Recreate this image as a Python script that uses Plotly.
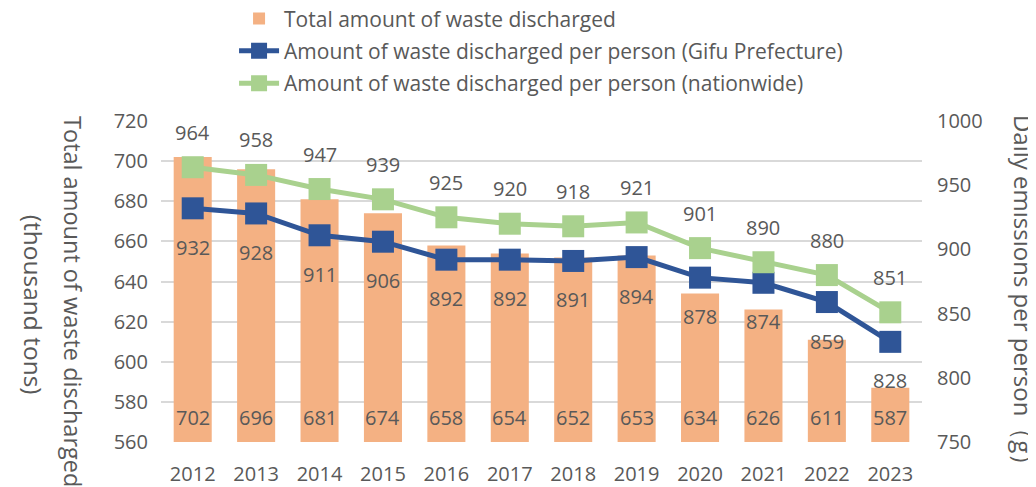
import plotly.graph_objects as go

years = ["2012", "2013", "2014", "2015", "2016", "2017", "2018", "2019", "2020", "2021", "2022", "2023"]
total = [702, 696, 681, 674, 658, 654, 652, 653, 634, 626, 611, 587]
gifu = [932, 928, 911, 906, 892, 892, 891, 894, 878, 874, 859, 828]
nation = [964, 958, 947, 939, 925, 920, 918, 921, 901, 890, 880, 851]

FONT = "Open Sans"
TXT = "#595959"
FS = 20

fig = go.Figure()
fig.add_trace(go.Bar(x=years, y=total, name="Total amount of waste discharged",
                     legendgroup="a",
                     marker=dict(color="#F4B183", line=dict(width=0)), yaxis="y"))
fig.add_trace(go.Scatter(x=years, y=gifu, name="Amount of waste discharged per person (Gifu Prefecture)",
                         legendgroup="b",
                         mode="lines+markers", yaxis="y2",
                         line=dict(color="#2F5597", width=5),
                         marker=dict(symbol="square", size=22, color="#2F5597")))
fig.add_trace(go.Scatter(x=years, y=nation, name="Amount of waste discharged per person (nationwide)",
                         legendgroup="c",
                         mode="lines+markers", yaxis="y2",
                         line=dict(color="#A9D18E", width=5),
                         marker=dict(symbol="square", size=22, color="#A9D18E")))

ann = []
for i, v in enumerate(total):
    ann.append(dict(x=i, y=560, xref="x", yref="y", text=str(v), showarrow=False,
                    yanchor="middle", yshift=25, font=dict(size=FS, color=TXT, family=FONT)))
for i, v in enumerate(gifu):
    ann.append(dict(x=i, y=v, xref="x", yref="y2", text=str(v), showarrow=False,
                    yanchor="middle", yshift=-39, font=dict(size=FS, color=TXT, family=FONT)))
for i, v in enumerate(nation):
    ann.append(dict(x=i, y=v, xref="x", yref="y2", text=str(v), showarrow=False,
                    yanchor="middle", yshift=35, font=dict(size=FS, color=TXT, family=FONT)))

ann.append(dict(x=-0.1156, y=0.439, xref="paper", yref="paper", text="Total amount of waste discharged",
                showarrow=False, textangle=90, xanchor="center", yanchor="middle",
                font=dict(size=23.5, color=TXT, family=FONT)))
ann.append(dict(x=-0.168, y=0.427, xref="paper", yref="paper", text="(thousand tons)",
                showarrow=False, textangle=90, xanchor="center", yanchor="middle",
                font=dict(size=24.5, color=TXT, family=FONT)))
ann.append(dict(x=1.1327, y=0.455, xref="paper", yref="paper", text="Daily emissions per person（g）",
                showarrow=False, textangle=90, xanchor="center", yanchor="middle",
                font=dict(size=24, color=TXT, family=FONT)))

fig.update_layout(
    width=1036, height=487,
    margin=dict(l=153, r=122, t=113, b=53, autoexpand=False),
    paper_bgcolor="white", plot_bgcolor="white",
    font=dict(family=FONT, size=FS, color=TXT),
    bargap=0.4,
    showlegend=True,
    legend=dict(x=0.096, y=1.382, xanchor="left", yanchor="top", orientation="v",
                traceorder="grouped", tracegroupgap=2,
                font=dict(size=21, color=TXT, family=FONT), bgcolor="rgba(0,0,0,0)",
                itemwidth=40),
    xaxis=dict(type="category", range=[-0.5, 11.5], showgrid=False, ticks="", showline=False,
               ticklabelstandoff=18, tickfont=dict(size=FS, color=TXT)),
    yaxis=dict(range=[560, 720], dtick=20, showgrid=True, gridcolor="#D9D9D9", gridwidth=1.5,
               zeroline=False, showline=False, ticks="", ticklabelstandoff=12,
               tickfont=dict(size=FS, color=TXT)),
    yaxis2=dict(range=[750, 1000], dtick=50, overlaying="y", side="right", showgrid=False,
                zeroline=False, showline=False, ticks="", ticklabelstandoff=14,
                tickfont=dict(size=FS, color=TXT)),
    annotations=ann,
)

fig.write_html("out.html")
